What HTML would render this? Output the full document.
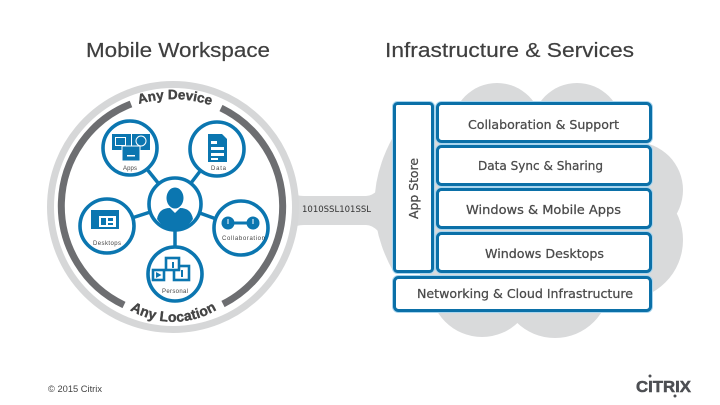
<!DOCTYPE html>
<html><head><meta charset="utf-8"><style>html,body{margin:0;padding:0;background:#fff}svg{display:block}</style></head>
<body><svg width="720" height="405" viewBox="0 0 720 405" xmlns="http://www.w3.org/2000/svg" font-family="'Liberation Sans',sans-serif">
<defs>
<path id="topArc" d="M 139 104 A 120 120 0 0 1 218 108"/>
<path id="botArc" d="M 130 310 A 85 85 0 0 0 224 305"/>
</defs>
<rect width="720" height="405" fill="#fff"/>
<!-- titles -->
<text x="86" y="57" font-size="20" fill="#3f3f3f" textLength="184" lengthAdjust="spacingAndGlyphs" stroke="#3f3f3f" stroke-width=".2">Mobile Workspace</text>
<text x="385" y="57" font-size="20" fill="#3f3f3f" textLength="249" lengthAdjust="spacingAndGlyphs" stroke="#3f3f3f" stroke-width=".2">Infrastructure &amp; Services</text>
<!-- band -->
<path d="M290 192 Q296 196 304 196 H366 Q372 196 378 190 V231 Q372 225 366 225 H304 Q296 225 290 229 Z" fill="#d9dadb"/>
<!-- cloud -->
<g fill="#d9dadb">
<circle cx="497" cy="128" r="45"/><circle cx="577" cy="128" r="45"/>
<path d="M393 137 Q356 204 393 271 H440 V137Z"/>
<circle cx="635" cy="190" r="48"/><circle cx="623" cy="240" r="60"/>
<circle cx="482" cy="285" r="52"/><circle cx="555" cy="283" r="55"/>
<rect x="420" y="120" width="200" height="180"/>
</g>
<!-- outer ring -->
<circle cx="173" cy="207" r="124" fill="#fff"/>
<circle cx="173" cy="207" r="122.5" fill="none" stroke="#d6d7d8" stroke-width="7"/>
<path d="M221 108 A 109.5 109.5 0 0 1 223 304" fill="none" stroke="#6d6e71" stroke-width="7"/>
<path d="M131 104 A 109.5 109.5 0 0 0 124 305" fill="none" stroke="#6d6e71" stroke-width="7"/>
<text font-size="13.5" font-weight="bold" fill="#444" stroke="#444" stroke-width=".4"><textPath href="#topArc">Any Device</textPath></text>
<text font-size="14" font-weight="bold" fill="#444" stroke="#444" stroke-width=".4" letter-spacing=".2"><textPath href="#botArc">Any Location</textPath></text>
<!-- connectors -->
<g stroke="#0b76b0" stroke-width="3.5">
<line x1="175" y1="204" x2="130" y2="148"/><line x1="175" y1="204" x2="217" y2="149"/>
<line x1="175" y1="204" x2="107" y2="226"/><line x1="175" y1="204" x2="241" y2="228"/>
<line x1="175" y1="204" x2="175" y2="274"/>
</g>
<!-- nodes -->
<g fill="#fff" stroke="#0b76b0" stroke-width="3.6">
<circle cx="130" cy="148" r="27"/><circle cx="217" cy="149" r="27"/>
<circle cx="175" cy="204" r="26"/><circle cx="107" cy="226" r="27"/>
<circle cx="241" cy="228" r="27"/><circle cx="175" cy="274" r="27"/>
</g>
<!-- person -->
<g fill="#0b76b0">
<ellipse cx="175" cy="198" rx="8.5" ry="10.500"/>
<path d="M157 219 Q159 208 170 208 L175 213 L180 208 Q191 208 193 219 Q186 230 175 230 Q164 230 157 219Z"/>
</g>
<!-- apps icon -->
<g>
<rect x="112" y="134" width="19" height="16" fill="#0b76b0"/><rect x="115" y="137" width="11" height="9" fill="#fff"/><rect x="116" y="138" width="9" height="7" fill="#0b76b0"/>
<rect x="132" y="134" width="18" height="16" fill="#0b76b0"/><circle cx="141" cy="141" r="5" fill="none" stroke="#fff" stroke-width="1"/>
<rect x="122" y="146" width="18" height="15" fill="#0b76b0" stroke="#fff" stroke-width="1"/><rect x="127" y="155" width="8" height="1.5" fill="#fff"/>
</g>
<!-- data icon -->
<path d="M208 134 H222 L227 139 V162 H208Z" fill="#0b76b0"/>
<g fill="#fff"><rect x="211" y="141" width="6" height="3"/><rect x="211" y="147" width="13" height="3"/><rect x="211" y="153" width="13" height="3"/><rect x="211" y="158" width="7" height="2"/></g>
<!-- desktop icon -->
<rect x="91" y="210" width="28" height="19" fill="#0b76b0"/><rect x="99" y="216" width="17" height="11" fill="#fff"/><rect x="101" y="218" width="5" height="7" fill="#0b76b0"/><rect x="108" y="218" width="5" height="3" fill="#0b76b0"/><rect x="108" y="223" width="5" height="2" fill="#0b76b0"/>
<!-- collab icon -->
<g fill="#0b76b0"><circle cx="228" cy="223" r="6.5"/><circle cx="253" cy="223" r="6.5"/><rect x="234" y="221.500" width="13" height="3"/></g>
<g fill="#fff"><rect x="227.500" y="219" width="1" height="5"/><rect x="252.500" y="219" width="1" height="5"/></g>
<!-- personal icon -->
<g fill="#fff" stroke="#0b76b0" stroke-width="2.6">
<rect x="153" y="270" width="11" height="10"/>
<rect x="174" y="266" width="15" height="14"/>
<rect x="166" y="258" width="13" height="12"/>
</g>
<path d="M156 272 L161.500 275 L156 278Z" fill="#0b76b0"/>
<rect x="172" y="262" width="2" height="6" fill="#0b76b0"/><rect x="181" y="270" width="2" height="7" fill="#0b76b0"/>
<!-- node labels -->
<g font-size="6" fill="#444">
<text x="123" y="170" textLength="14">Apps</text>
<text x="211" y="170" textLength="15">Data</text>
<text x="93" y="245" textLength="28">Desktops</text>
<text x="222" y="240" textLength="43">Collaboration</text>
<text x="162" y="293" textLength="26">Personal</text>
</g>
<text x="302" y="212" font-size="9" fill="#333" font-family="'DejaVu Sans',sans-serif" textLength="69" lengthAdjust="spacingAndGlyphs">1010SSL101SSL</text>
<!-- box halo -->
<g fill="none" stroke="#a9d5ee" stroke-width="5">
<rect x="394.500" y="103.500" width="38" height="168" rx="3"/>
<rect x="437.500" y="103.500" width="213" height="38" rx="4"/>
<rect x="437.500" y="146.500" width="213" height="38" rx="4"/>
<rect x="437.500" y="189.500" width="213" height="38" rx="4"/>
<rect x="437.500" y="233.500" width="213" height="38" rx="4"/>
<rect x="394.500" y="277.500" width="256" height="33" rx="4"/>
</g>
<!-- boxes -->
<g fill="#fff" stroke="#0b70a8" stroke-width="3">
<rect x="394.500" y="103.500" width="38" height="168" rx="3"/>
<rect x="437.500" y="103.500" width="213" height="38" rx="4"/>
<rect x="437.500" y="146.500" width="213" height="38" rx="4"/>
<rect x="437.500" y="189.500" width="213" height="38" rx="4"/>
<rect x="437.500" y="233.500" width="213" height="38" rx="4"/>
<rect x="394.500" y="277.500" width="256" height="33" rx="4"/>
</g>
<g font-family="'DejaVu Sans',sans-serif" font-size="12" fill="#4a4a4a" stroke="#4a4a4a" stroke-width=".25">
<text x="468" y="129" textLength="151" lengthAdjust="spacingAndGlyphs">Collaboration &amp; Support</text>
<text x="478" y="170" textLength="125" lengthAdjust="spacingAndGlyphs">Data Sync &amp; Sharing</text>
<text x="466" y="214" textLength="155" lengthAdjust="spacingAndGlyphs">Windows &amp; Mobile Apps</text>
<text x="485" y="258" textLength="119" lengthAdjust="spacingAndGlyphs">Windows Desktops</text>
<text x="417" y="298" textLength="216" lengthAdjust="spacingAndGlyphs">Networking &amp; Cloud Infrastructure</text>
<text transform="translate(418,219) rotate(-90)" textLength="61" lengthAdjust="spacingAndGlyphs">App Store</text>
</g>
<!-- footer -->
<text x="48" y="392" font-size="9" fill="#444" textLength="54" lengthAdjust="spacingAndGlyphs">© 2015 Citrix</text>
<text x="636" y="392" font-size="16" font-weight="bold" fill="#4d4f53" stroke="#4d4f53" stroke-width=".5" textLength="55" lengthAdjust="spacingAndGlyphs">CITRIX</text>
<circle cx="650" cy="376" r="1.500" fill="#4d4f53"/><circle cx="675" cy="396" r="1.500" fill="#4d4f53"/>
</svg></body></html>
